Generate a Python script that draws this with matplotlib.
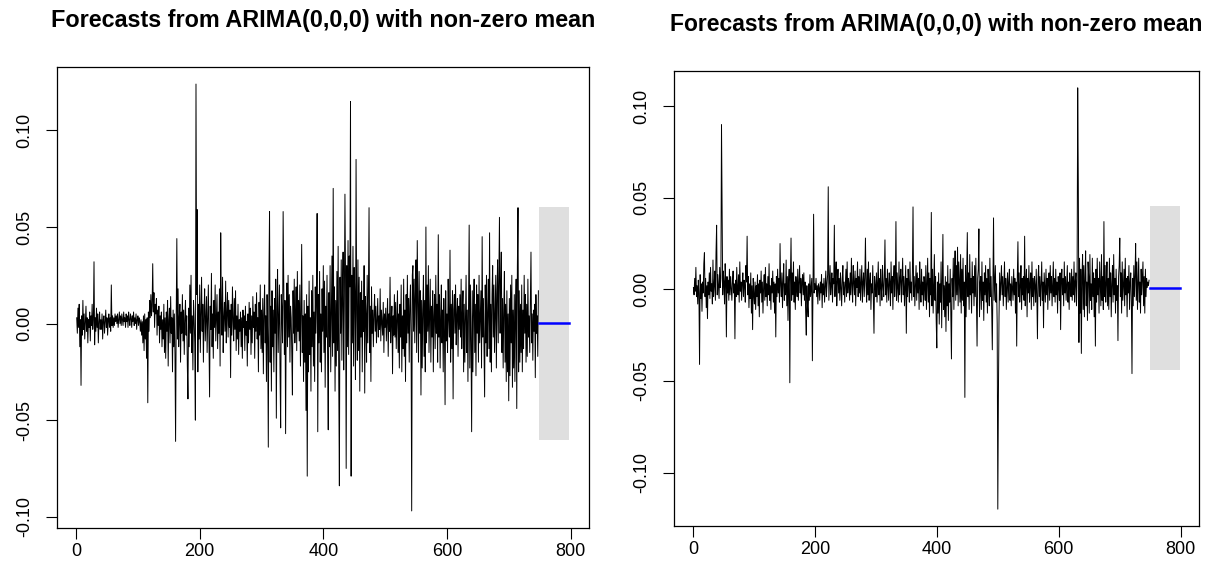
import matplotlib

matplotlib.use("Agg")

import matplotlib.pyplot as plt
import numpy as np
from matplotlib.ticker import FixedLocator, FormatStrFormatter, MultipleLocator

# Series values, in units of 0.001 (one value per time step).
LEFT_SERIES = [
    3, -5, 8, -2, 10, -12, 2, -32, 4, -6, 12, -3, 5, -8, 1, 9, -4, 3, -10, 2,
    -2, 6, -9, 4, -1, 10, -3, 2, 32, -11, 3, -4, 8, -2, 5, -10, 1, 6, -3, 2,
    -3, 5, -8, 2, 4, -5, 1, 7, -2, 3, -6, 1, 5, -2, 3, -4, 20, -1, 4, -2,
    3, -1, 5, 1, 4, 0, 5, -2, 2, 6, 0, 4, -1, 5, 2, -1, 6, 1, 3, -2,
    5, 1, 4, -2, 6, 2, -1, 5, 3, -2, 4, 1, 6, -1, 3, 0, 5, -3, 2, 4,
    -1, 3, 1, -4, 2, -6, 1, -10, 4, -14, 5, -8, 2, -18, 3, -41, 6, -4, 12, 3,
    15, 4, 9, 31, 6, 16, -2, 10, 5, 13, -6, 7, -1, 9, -10, 4, -3, 6, -12, 2,
    -8, 10, -15, 3, -18, 6, -4, 12, -22, 2, 8, -10, 14, -5, 3, -25, 7, -12, 5, -16,
    -61, 4, 44, -8, 18, -12, 3, 10, -20, 6, -5, 15, -9, 7, -16, 2, 12, -6, 4, -22,
    -39, 8, -12, 20, -5, 25, -15, 4, -24, 12, 3, -10, -50, 124, 15, 59, -25, 10, -8, 20,
    -15, 6, 24, -4, 10, -20, 5, 18, -9, 3, 14, -15, 4, 20, -7, -38, 9, -3, 26, -12,
    5, -18, 12, -2, 20, -9, 4, 15, -13, 6, -5, 18, -22, 47, 8, -6, 24, -15, 3, 11,
    -4, 22, -10, 5, 16, -7, 12, -2, 7, -28, 10, -6, 19, 2, -9, 13, -3, 17, -14, 4,
    -8, 10, -16, 2, -4, 6, -12, 3, -18, 7, -2, 4, -14, 9, -6, 1, -22, 5, -10, 11,
    -3, 8, -16, 4, -10, 14, -2, 6, -18, 10, -4, 16, -8, 3, -25, 11, -6, 20, -13, 7,
    -15, 13, -26, 5, 20, -10, 4, -30, 15, -7, -64, 24, 58, -20, 9, -35, 17, -12, 7, -25,
    13, -5, 23, -49, 9, 28, -15, 4, 20, -25, -54, 15, 6, -10, 58, 24, -16, 12, -57, 5,
    21, -12, 25, -7, 15, -20, 9, 3, -15, -37, 17, -5, 23, -10, 2, 19, -14, 27, -4, 12,
    -9, 20, -22, 6, 41, -15, 4, -30, 12, -20, 5, -45, 15, -79, 9, -25, 22, -16, 3, -35,
    17, -12, 25, -22, 6, -30, 19, -5, 12, 57, -56, 15, -10, 27, -20, 5, -25, 18, -4, 30,
    -15, 22, -33, 9, -7, 25, -19, -55, 16, -12, 30, -25, 5, 35, -17, 70, -10, 19, -35, 12,
    -22, 27, -14, 40, -29, -84, 24, -5, 33, -19, 14, 37, -24, 9, 67, 22, -75, 30, -12, 43,
    -16, 35, 19, 115, -79, 25, -10, 40, -22, 29, 14, -29, 85, 5, -19, 33, -14, 24, -35, 16,
    -7, 22, -25, 12, -4, 30, -36, 14, 5, -20, 25, -10, 16, 60, -15, 9, -30, 19, -5, 7,
    -12, 5, 15, -4, 9, -10, 2, 13, -7, 4, -3, 18, -9, 7, 1, -6, 11, -15, 5, -2,
    8, -9, 3, 13, -17, 5, -4, 24, -10, 2, 9, -26, 4, -6, 15, -7, 11, -13, 3, 17,
    -15, 5, -23, 10, -7, 20, -25, 4, -13, 23, -17, 7, -30, 15, -10, 25, -5, 13, -20, 9,
    20, -7, -97, 25, 30, -4, 23, -10, 15, 33, -15, 43, 9, -20, 27, -5, 17, -37, 12, -23,
    7, 25, -17, 12, -25, 50, -10, 20, -4, 30, -15, 5, 23, -20, 9, -7, 17, -25, 4, 15,
    -13, 25, -5, 10, -20, 46, -7, 15, -23, 4, 20, -10, 7, -25, 13, -4, -42, 17, -9, 5,
    -15, 23, 2, -7, 38, -20, 10, -13, 17, -39, 7, 15, -5, 20, -11, 4, 13, -17, 9, -3,
    15, -7, 23, -13, 5, 17, -25, 10, -20, 4, 25, -15, 7, -30, 13, 51, -23, 20, -10, -56,
    17, -25, 7, 23, -15, 10, -27, 20, -5, 15, -20, 25, -10, 4, 17, -23, 45, -7, 13, -15,
    -38, 20, -10, 25, -17, 5, 23, -13, 47, -20, 10, -25, 15, 30, -7, 20, -15, 4, 25, -23,
    15, 33, -10, 25, 55, -5, 20, 37, -15, 13, -23, 7, 27, -20, 10, -30, 17, -25, 5, -40,
    13, -27, 20, -10, 25, -33, 7, -23, 15, -30, 4, 23, -44, 30, 60, -25, 17, -20, 10, -15,
    20, -25, 7, -13, 25, -5, 15, -20, 10, -17, 23, -7, 4, -15, 13, 37, -10, 5, -19, 7,
    -4, 10, -28, 15, -5, 4, -17, 17,
]

RIGHT_SERIES = [
    1, -3, 6, -1, 12, -4, 2, -8, 5, -2, -41, 8, -5, 3, -12, 4, -2, 14, 20, -4,
    6, -10, 2, -16, 4, -3, 9, -5, 12, -1, 3, -8, 16, -4, 2, 10, -6, 20, 35, -3,
    8, 2, -5, 12, 1, 6, 90, 40, -3, 10, 4, -8, 14, 3, -26, 7, -2, 5, -6, 11,
    -3, 7, 1, -6, 4, 10, -2, 3, -27, 5, -4, 12, 1, -3, 8, -7, 15, -1, 4, -6,
    3, 9, -4, 5, 2, -7, 13, 4, 29, -3, 7, -10, 3, -5, 9, -13, 2, -22, 6, -3,
    -8, 4, -11, 2, -4, 8, -9, 3, -15, 5, -2, 10, -7, 4, -13, 1, 8, -6, 12, -4,
    3, -9, 7, -3, 14, -6, 2, -11, 6, -2, 10, -7, 4, -13, 3, -26, 7, -4, 11, -2,
    6, -7, 25, 2, -4, 9, -10, 4, 14, -6, 3, -3, 16, -9, 7, -17, 4, 11, -51, 6,
    28, -6, 9, -3, 15, -7, 4, -11, 7, 2, -4, 11, -6, 3, 13, -2, 6, -9, 4, 8,
    -3, 9, -6, 4, -13, -25, 2, -9, -15, 3, -6, 8, -4, 1, 6, -39, 4, 41, -2, 3,
    0, 6, -4, 2, -8, 3, 1, -6, 4, -2, 8, -10, 3, -3, 6, -7, 2, 10, -4, 3,
    8, 56, -6, 4, 13, -3, 2, 9, -7, 6, 3, 35, -4, 7, 15, -9, 4, 11, -2, 6,
    -6, 9, 1, -9, 6, 13, -3, 4, -7, 2, 11, -4, 15, -2, 6, 3, -6, 9, -3, 17,
    2, -7, 13, 4, -3, 10, -9, 6, 1, 15, -4, 7, -2, 11, -6, 3, 13, -7, 4, 9,
    -4, 6, 28, 2, -7, 11, -3, 15, -6, 4, 9, -11, 3, -2, 13, -6, -24, 7, 2, -4,
    9, -7, 4, 15, -3, 6, -9, 11, 1, -6, 13, 2, -4, 7, 27, -3, 6, -7, 11, 3,
    -6, 9, 4, -9, 15, -2, 7, -11, 6, 13, -4, 3, 37, -6, 9, 1, -7, 15, -3, 6,
    11, -7, 4, 17, -3, 7, -9, 2, 13, -24, 6, -4, 11, 3, -7, 15, -2, 4, -6, 9,
    45, -4, 7, -9, 3, 13, -6, 9, -2, 6, -11, 15, 1, -7, 11, -3, 4, -9, 7, 2,
    -6, 13, -11, 4, 17, -7, 9, -15, 6, -3, 42, -9, 11, -13, 3, 19, -6, 7, -17, -32,
    4, -13, 9, -19, 3, -7, 15, -21, 6, 30, -11, 2, -15, 7, -23, 4, -9, 13, -17, 3,
    -7, 11, -15, -38, 6, -4, 17, -11, 9, 21, -6, 13, -3, 23, -9, 15, 4, -7, 19, -13,
    11, -6, 17, -9, 4, -59, 13, -15, 7, 31, -4, 9, -11, 19, -3, 6, -13, 15, -2, 7,
    -9, 13, -4, 17, -7, -31, 6, 11, 33, -15, 3, 7, -11, 15, -6, 4, -17, 9, -3, 13,
    -7, 6, -13, 11, 2, -9, 17, -4, 7, -11, -33, 6, 39, -6, 4, 13, -7, 3, -19, -120,
    -58, -15, 9, -6, 4, 13, -3, 7, -9, 3, 15, -4, 6, -11, 2, 9, -7, 4, 11, -6,
    3, -9, 7, 1, -6, 11, -3, 6, -13, 4, -31, 7, 26, -4, 9, -7, 2, 13, -11, 6,
    -3, 7, -6, 29, -9, 4, 11, -15, 6, -2, 13, -7, 3, 9, -11, 15, -4, 6, -9, 7,
    2, -7, 11, -3, -27, 6, 13, -4, 7, -9, 3, 15, -6, 4, -21, 9, 1, -7, 11, -3,
    6, -11, 4, 9, -6, 13, -2, 7, -9, 3, 15, -4, 6, -7, 11, -3, 4, -13, 7, 2,
    -6, 9, -22, 4, 11, -3, 6, -9, 15, -2, 7, -6, 3, 13, -7, 4, -11, 9, 1, -4,
    11, -6, 7, -3, 15, -7, 4, 9, -9, 6, 110, 58, -29, 17, -13, 11, -35, 7, 19, -11,
    13, -15, 6, 21, -9, 4, -17, 15, 7, -13, 19, -6, 3, -11, 17, -4, 9, -15, 6, -31,
    11, -7, 17, -3, 6, -13, 15, 2, -9, 19, -6, 7, -11, 37, -4, 13, -7, 3, 15, -9,
    6, -11, 17, -4, 9, -15, 3, 13, -7, 19, -3, 6, -13, 11, -6, 2, -28, 7, 13, 28,
    -4, 9, -13, 15, -6, 3, 11, -9, 17, -3, 6, -15, 7, -2, 13, -11, 4, 9, -7, -46,
    6, -9, 13, -4, 7, 25, -6, 15, -11, 3, 17, -7, 4, -13, 11, -3, 6, 15, -9, 7,
    -13, 11, -4, 6, 1, 4, 2, 5,
]

# Point forecast and 95% interval (constant for an ARIMA(0,0,0) model)
FC_HORIZON = 50
LEFT_FC = {"mean": 0.0004, "lo": -0.0603, "hi": 0.0605}
RIGHT_FC = {"mean": 0.0006, "lo": -0.0440, "hi": 0.0453}

TITLE = "Forecasts from ARIMA(0,0,0) with non-zero mean"
X_TICKS = [0, 200, 400, 600, 800]

plt.rcParams.update({
    "font.family": ["Liberation Sans", "DejaVu Sans"],
    "axes.unicode_minus": False,
})


def draw_panel(ax, series, fc):
    y = np.asarray(series) / 1000.0
    t = np.arange(1, len(y) + 1)
    tf = np.arange(len(y) + 1, len(y) + FC_HORIZON + 1)
    ax.fill_between(tf, fc["lo"], fc["hi"], color="#dfdfdf", lw=0)
    ax.plot(t, y, color="black", lw=0.7)
    ax.plot(tf, np.full(tf.size, fc["mean"]), color="#0000ff", lw=1.8)

    ax.margins(x=0.04, y=0.04)
    ax.xaxis.set_major_locator(FixedLocator(X_TICKS))
    ax.yaxis.set_major_locator(MultipleLocator(0.05))
    ax.yaxis.set_major_formatter(FormatStrFormatter("%.2f"))
    ax.tick_params(direction="out", length=8, width=0.8, labelsize=13)
    ax.tick_params(axis="x", pad=3)
    ax.tick_params(axis="y", pad=9)
    for lab in ax.get_yticklabels():
        lab.set_rotation(90)
        lab.set_va("center")
    for sp in ax.spines.values():
        sp.set_linewidth(0.9)
        sp.set_color("black")


fig = plt.figure(figsize=(12.15, 5.73), dpi=100, facecolor="white")
ax_l = fig.add_axes([57 / 1215, 1 - 528 / 573, 532 / 1215, 461 / 573])
ax_r = fig.add_axes([674 / 1215, 1 - 526 / 573, 525 / 1215, 455 / 573])

draw_panel(ax_l, LEFT_SERIES, LEFT_FC)
draw_panel(ax_r, RIGHT_SERIES, RIGHT_FC)

fig.text(323 / 1215, 1 - 20 / 573, TITLE, ha="center", va="center",
         fontsize=16.8, fontweight="bold")
fig.text(936 / 1215, 1 - 25 / 573, TITLE, ha="center", va="center",
         fontsize=16.5, fontweight="bold")

fig.savefig("out.png", dpi=100, facecolor="white")
